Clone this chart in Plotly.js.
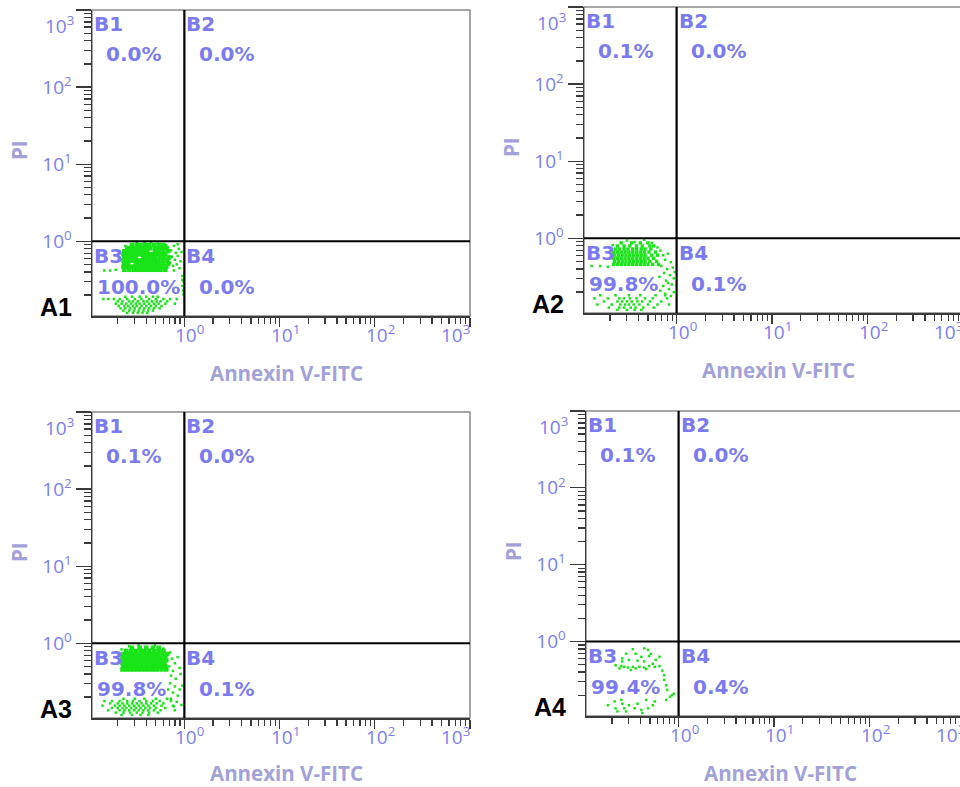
<!DOCTYPE html>
<html>
<head>
<meta charset="utf-8">
<script src="https://cdn.plot.ly/plotly-3.0.1.min.js"></script>
<style>
  html, body { margin: 0; padding: 0; overflow: hidden; background: #fff; }
  #chart { width: 966px; height: 787px; }
</style>
</head>
<body>
<div id="chart"></div>
<script>
// Annexin V-FITC / PI apoptosis dot plots for four samples (A1–A4)

const sampleNames = ['A1', 'A2', 'A3', 'A4'];
const quadrantNames = ['B1', 'B2', 'B3', 'B4'];
// share of events (%) in quadrants B1, B2, B3, B4 for each sample
const quadrantPct = [
  [0.0, 0.0, 100.0, 0.0],
  [0.1, 0.0, 99.8, 0.1],
  [0.1, 0.0, 99.8, 0.1],
  [0.1, 0.0, 99.4, 0.4]
];
// quadrant gates (Annexin V-FITC, PI)
const gateAnnexin = 1;
const gatePI = 1;
// axis ticks
const tickValues = [1, 10, 100, 1000];
const tickLabels = ['10<sup>0</sup>', '10<sup>1</sup>', '10<sup>2</sup>', '10<sup>3</sup>'];
const logRange = [-0.97, 3.0];

// Events, in log10 units.
// Dense rows: [PI, Annexin, Annexin, ...]; loose events: [Annexin, PI]
const a1Core = [
  [-0.05, -0.55, -0.50, -0.46, -0.41, -0.37, -0.32, -0.27, -0.22],
  [-0.09, -0.60, -0.56, -0.52, -0.48, -0.44, -0.40, -0.36, -0.31, -0.27, -0.23, -0.19],
  [-0.13, -0.63, -0.59, -0.55, -0.51, -0.47, -0.43, -0.39, -0.31, -0.27, -0.22, -0.17],
  [-0.17, -0.64, -0.60, -0.56, -0.52, -0.48, -0.44, -0.40, -0.36, -0.32, -0.28, -0.24, -0.20],
  [-0.21, -0.63, -0.59, -0.55, -0.51, -0.43, -0.39, -0.35, -0.31, -0.26, -0.21, -0.16],
  [-0.25, -0.64, -0.60, -0.56, -0.52, -0.48, -0.44, -0.40, -0.36, -0.32, -0.28, -0.23, -0.18],
  [-0.29, -0.63, -0.59, -0.51, -0.47, -0.43, -0.39, -0.35, -0.31, -0.27, -0.22, -0.17],
  [-0.33, -0.64, -0.60, -0.56, -0.52, -0.48, -0.44, -0.40, -0.36, -0.32, -0.28, -0.24, -0.19],
  [-0.37, -0.63, -0.58, -0.53, -0.49, -0.45, -0.41, -0.37, -0.33, -0.29, -0.25, -0.20]
];
const a1Band = [
  [-0.72, -0.62, -0.55, -0.47, -0.40, -0.33, -0.28],
  [-0.75, -0.85, -0.80, -0.74, -0.68, -0.60, -0.52, -0.45, -0.37, -0.30, -0.22, -0.15, -0.08],
  [-0.78, -0.70, -0.65, -0.58, -0.54, -0.49, -0.43, -0.39, -0.34, -0.29, -0.25, -0.18],
  [-0.81, -0.72, -0.66, -0.61, -0.56, -0.51, -0.47, -0.42, -0.37, -0.32, -0.27, -0.20, -0.10],
  [-0.84, -0.69, -0.63, -0.59, -0.54, -0.50, -0.45, -0.40, -0.35, -0.30, -0.24],
  [-0.87, -0.67, -0.62, -0.57, -0.52, -0.47, -0.42, -0.37, -0.32, -0.26],
  [-0.90, -0.64, -0.58, -0.53, -0.48, -0.43, -0.38, -0.33],
  [-0.93, -0.60, -0.54, -0.49, -0.44, -0.39]
];
const a1Loose = [
  [-0.50, -0.01], [-0.42, -0.02], [-0.35, -0.01], [-0.28, -0.03], [-0.62, -0.06], [-0.19, -0.05],
  [-0.17, -0.08], [-0.14, -0.12], [-0.11, -0.06], [-0.09, -0.15], [-0.06, -0.10], [-0.13, -0.20],
  [-0.10, -0.24], [-0.07, -0.19], [-0.04, -0.26], [-0.15, -0.28], [-0.12, -0.32], [-0.08, -0.30],
  [-0.05, -0.35], [-0.03, -0.14], [-0.11, -0.38], [-0.07, -0.04],
  [-0.84, -0.38], [-0.78, -0.38], [-0.72, -0.37],
  [-0.02, -0.45], [-0.01, -0.52], [-0.02, -0.58], [-0.01, -0.64], [-0.02, -0.50], [-0.01, -0.69]
];

const a2Core = [
  [-0.06, -0.58, -0.47, -0.38, -0.30],
  [-0.10, -0.62, -0.55, -0.49, -0.42, -0.36, -0.28, -0.24],
  [-0.14, -0.64, -0.60, -0.55, -0.51, -0.46, -0.42, -0.37, -0.33, -0.27],
  [-0.18, -0.66, -0.62, -0.58, -0.54, -0.50, -0.46, -0.42, -0.38, -0.34, -0.29, -0.22],
  [-0.22, -0.65, -0.61, -0.57, -0.53, -0.49, -0.45, -0.41, -0.37, -0.33, -0.26, -0.20],
  [-0.26, -0.66, -0.62, -0.58, -0.54, -0.50, -0.46, -0.42, -0.38, -0.34, -0.30, -0.24],
  [-0.30, -0.65, -0.61, -0.57, -0.53, -0.49, -0.45, -0.41, -0.37, -0.33, -0.28, -0.21],
  [-0.34, -0.66, -0.62, -0.58, -0.54, -0.50, -0.46, -0.42, -0.38, -0.34, -0.30, -0.25, -0.19]
];
const a2Band = [
  [-0.74, -0.80, -0.64, -0.50, -0.38, -0.22, -0.12],
  [-0.78, -0.86, -0.72, -0.60, -0.55, -0.49, -0.42, -0.33, -0.25, -0.10],
  [-0.82, -0.76, -0.62, -0.57, -0.52, -0.47, -0.41, -0.36, -0.28, -0.16],
  [-0.86, -0.83, -0.68, -0.59, -0.54, -0.50, -0.45, -0.39, -0.30, -0.20, -0.08],
  [-0.90, -0.71, -0.60, -0.55, -0.48, -0.43, -0.35, -0.24],
  [-0.93, -0.62, -0.52, -0.44, -0.37]
];
const a2Loose = [
  [-0.52, -0.03], [-0.44, -0.05], [-0.34, -0.02], [-0.26, -0.06], [-0.20, -0.12], [-0.67, -0.09],
  [-0.17, -0.16], [-0.14, -0.22], [-0.12, -0.28], [-0.09, -0.20], [-0.06, -0.31], [-0.16, -0.36],
  [-0.10, -0.40], [-0.04, -0.38], [-0.13, -0.45], [-0.07, -0.48], [-0.03, -0.52], [-0.11, -0.55],
  [-0.05, -0.60], [-0.14, -0.62], [-0.08, -0.66], [-0.03, -0.70], [-0.12, -0.72], [-0.06, -0.75],
  [-0.18, -0.50], [-0.17, -0.68], [-0.02, -0.44], [-0.09, -0.58],
  [-0.89, -0.36], [-0.80, -0.36], [-0.72, -0.37]
];

const a3Core = [
  [-0.06, -0.55, -0.47, -0.40, -0.33, -0.27],
  [-0.10, -0.61, -0.56, -0.51, -0.46, -0.42, -0.37, -0.32, -0.27, -0.22],
  [-0.14, -0.64, -0.60, -0.56, -0.52, -0.48, -0.44, -0.40, -0.36, -0.32, -0.28, -0.23, -0.18],
  [-0.18, -0.65, -0.61, -0.57, -0.53, -0.49, -0.45, -0.41, -0.37, -0.33, -0.29, -0.25, -0.20],
  [-0.22, -0.64, -0.60, -0.56, -0.52, -0.48, -0.44, -0.40, -0.36, -0.32, -0.28, -0.24, -0.19],
  [-0.26, -0.65, -0.61, -0.57, -0.53, -0.49, -0.45, -0.41, -0.37, -0.33, -0.29, -0.25, -0.21],
  [-0.30, -0.64, -0.60, -0.56, -0.52, -0.48, -0.44, -0.40, -0.36, -0.32, -0.28, -0.24, -0.20],
  [-0.34, -0.65, -0.61, -0.57, -0.53, -0.49, -0.45, -0.41, -0.37, -0.33, -0.29, -0.24, -0.19]
];
const a3Band = [
  [-0.72, -0.64, -0.52, -0.42, -0.30, -0.18],
  [-0.75, -0.84, -0.76, -0.68, -0.60, -0.54, -0.47, -0.40, -0.33, -0.26, -0.14],
  [-0.78, -0.78, -0.70, -0.65, -0.60, -0.55, -0.50, -0.45, -0.40, -0.35, -0.29, -0.22],
  [-0.81, -0.86, -0.73, -0.68, -0.63, -0.58, -0.53, -0.48, -0.43, -0.38, -0.32, -0.24, -0.12],
  [-0.84, -0.76, -0.70, -0.65, -0.61, -0.56, -0.51, -0.46, -0.41, -0.36, -0.30, -0.20],
  [-0.87, -0.80, -0.68, -0.63, -0.58, -0.53, -0.48, -0.43, -0.38, -0.32, -0.25, -0.10],
  [-0.90, -0.72, -0.64, -0.57, -0.50, -0.44, -0.37, -0.28],
  [-0.93, -0.66, -0.55, -0.46, -0.38]
];
const a3Loose = [
  [-0.58, -0.04], [-0.48, -0.02], [-0.40, -0.05], [-0.31, -0.03], [-0.22, -0.07], [-0.66, -0.08],
  [-0.15, -0.12], [-0.13, -0.20], [-0.10, -0.26], [-0.16, -0.30], [-0.07, -0.18], [-0.12, -0.36],
  [-0.05, -0.32], [-0.14, -0.42], [-0.09, -0.46], [-0.04, -0.40], [-0.15, -0.52], [-0.10, -0.56],
  [-0.05, -0.60], [-0.12, -0.64], [-0.07, -0.68], [-0.02, -0.55], [-0.14, -0.72], [-0.08, -0.76],
  [-0.03, -0.80], [-0.17, -0.60], [-0.11, -0.82]
];

const a4Core = [];
const a4Band = [];
const a4Loose = [
  [-0.48, -0.10], [-0.36, -0.09], [-0.32, -0.11], [-0.55, -0.16], [-0.45, -0.16], [-0.39, -0.20],
  [-0.31, -0.19], [-0.59, -0.22], [-0.52, -0.24], [-0.43, -0.25], [-0.36, -0.26], [-0.27, -0.29],
  [-0.66, -0.31], [-0.60, -0.32], [-0.57, -0.33], [-0.53, -0.34], [-0.48, -0.33], [-0.45, -0.35],
  [-0.41, -0.33], [-0.36, -0.34], [-0.31, -0.32], [-0.25, -0.33], [-0.20, -0.32], [-0.62, -0.35],
  [-0.50, -0.37], [-0.34, -0.36], [-0.17, -0.38], [-0.15, -0.44], [-0.59, -0.26], [-0.24, -0.24],
  [-0.29, -0.16], [-0.20, -0.20],
  [-0.15, -0.50], [-0.13, -0.57], [-0.12, -0.63], [-0.07, -0.70], [-0.05, -0.68], [-0.09, -0.72],
  [-0.13, -0.76],
  [-0.74, -0.83], [-0.67, -0.78], [-0.66, -0.87], [-0.60, -0.76], [-0.59, -0.81], [-0.55, -0.91],
  [-0.52, -0.83], [-0.46, -0.87], [-0.43, -0.81], [-0.39, -0.89], [-0.34, -0.76], [-0.32, -0.87],
  [-0.27, -0.83], [-0.25, -0.78], [-0.57, -0.87], [-0.64, -0.91], [-0.38, -0.93]
];

const coreSets = [a1Core, a2Core, a3Core, a4Core];
const bandSets = [a1Band, a2Band, a3Band, a4Band];
const looseSets = [a1Loose, a2Loose, a3Loose, a4Loose];

// ---------- layout geometry (pixels on a 966 x 787 sheet) ----------
const W = 966, H = 787;
// plot frames [left, top, right, bottom]
const frames = [
  [92, 10, 470, 316],
  [584, 7, 963, 313],
  [92, 412, 470, 718],
  [586, 411, 965, 716]
];
const fx = p => p / W;
const fy = p => 1 - p / H;

const dotColor = '#18e418';
const labelBlue = '#7b7bef';
const tickBlue = '#7d7df2';
const titleBlue = '#a2a2d8';

const pow10 = v => Math.pow(10, v);
function rowsToXY(rows) {
  const x = [], y = [];
  rows.forEach(r => { for (let k = 1; k < r.length; k++) { x.push(pow10(r[k])); y.push(pow10(r[0])); } });
  return { x, y };
}
function pairsToXY(pairs) {
  return { x: pairs.map(p => pow10(p[0])), y: pairs.map(p => pow10(p[1])) };
}

// minor tick positions 2..9 x 10^n
const minorVals = [];
for (let e = -1; e <= 2; e++) for (let k = 2; k <= 9; k++) minorVals.push(k * Math.pow(10, e));

const traces = [];
const layout = {
  width: W, height: H,
  margin: { l: 0, r: 0, t: 0, b: 0 },
  paper_bgcolor: '#fff', plot_bgcolor: '#fff',
  showlegend: false, hovermode: false,
  shapes: [], annotations: []
};

const tickFont = { family: 'Open Sans, DejaVu Sans, sans-serif', size: 19, color: tickBlue };
const qFont = { family: 'DejaVu Sans, sans-serif', size: 20, color: labelBlue };
const titleFont = { family: 'Open Sans, sans-serif', size: 20.5, color: titleBlue };

frames.forEach((fr, i) => {
  const [L, T, R, B] = fr;
  const n = i === 0 ? '' : String(i + 1);
  const xa = 'x' + n, ya = 'y' + n;
  const xd = xa + ' domain', yd = ya + ' domain';

  const axisCommon = {
    type: 'log', range: logRange, showgrid: false, zeroline: false,
    showline: true, linecolor: '#3a3a3a', linewidth: 1.5,
    ticks: 'outside', tickcolor: '#3a3a3a', tickwidth: 1.3,
    tickmode: 'array', tickvals: tickValues,
    ticktext: tickLabels.map((t, k) => k === tickLabels.length - 1 ? '' : t),
    tickfont: tickFont, fixedrange: true
  };
  layout['xaxis' + n] = Object.assign({}, axisCommon, {
    domain: [fx(L), fx(R)], anchor: ya, ticklen: 9, showticklabels: false,
    minor: { tickvals: minorVals, ticks: 'outside', ticklen: 6, tickcolor: '#3a3a3a', tickwidth: 1.3, showgrid: false }
  });
  layout['yaxis' + n] = Object.assign({}, axisCommon, {
    domain: [fy(B), fy(T)], anchor: xa, ticklen: 15,
    minor: { tickvals: minorVals, ticks: 'outside', ticklen: 7, tickcolor: '#3a3a3a', tickwidth: 1.3, showgrid: false }
  });

  // outer frame
  layout.shapes.push({ type: 'rect', xref: xd, yref: yd, x0: 0, x1: 1, y0: 0, y1: 1,
    line: { color: '#8a8a8a', width: 1.5 }, layer: 'below' });

  // events
  const core = rowsToXY(coreSets[i]);
  const band = rowsToXY(bandSets[i]);
  const loose = pairsToXY(looseSets[i]);
  traces.push({ type: 'scatter', mode: 'markers', xaxis: xa, yaxis: ya, x: core.x, y: core.y,
    marker: { symbol: 'square', size: i === 1 ? 3.4 : 4.6, color: dotColor, line: { width: 0 } } });
  traces.push({ type: 'scatter', mode: 'markers', xaxis: xa, yaxis: ya,
    x: band.x.concat(loose.x), y: band.y.concat(loose.y),
    marker: { symbol: 'square', size: 2.5, color: dotColor, line: { width: 0 } } });

  // quadrant gates
  const lo = pow10(logRange[0]), hi = pow10(logRange[1]);
  traces.push({ type: 'scatter', mode: 'lines', xaxis: xa, yaxis: ya,
    x: [gateAnnexin, gateAnnexin], y: [lo, hi], line: { color: '#000', width: 2.2 }, cliponaxis: false });
  traces.push({ type: 'scatter', mode: 'lines', xaxis: xa, yaxis: ya,
    x: [lo, hi], y: [gatePI, gatePI], line: { color: '#000', width: 2.2 }, cliponaxis: false });

  const gx = Math.log10(gateAnnexin), gy = Math.log10(gatePI);
  const ann = layout.annotations;
  const pct = quadrantPct[i].map(v => v.toFixed(1) + '%');
  // quadrant names
  ann.push({ xref: xd, x: 0, xanchor: 'left', xshift: 0, yref: yd, y: 1, yanchor: 'middle', yshift: -14,
    text: '<b>' + quadrantNames[0] + '</b>', showarrow: false, font: qFont });
  ann.push({ xref: xa, x: gx, xanchor: 'left', xshift: 0, yref: yd, y: 1, yanchor: 'middle', yshift: -14,
    text: '<b>' + quadrantNames[1] + '</b>', showarrow: false, font: qFont });
  ann.push({ xref: xd, x: 0, xanchor: 'left', xshift: 0, yref: ya, y: gy, yanchor: 'middle', yshift: -15,
    text: '<b>' + quadrantNames[2] + '</b>', showarrow: false, font: qFont });
  ann.push({ xref: xa, x: gx, xanchor: 'left', xshift: 0, yref: ya, y: gy, yanchor: 'middle', yshift: -15,
    text: '<b>' + quadrantNames[3] + '</b>', showarrow: false, font: qFont });
  // percentages
  ann.push({ xref: xd, x: 0, xanchor: 'center', xshift: 41, yref: yd, y: 1, yanchor: 'middle', yshift: -44,
    text: '<b>' + pct[0] + '</b>', showarrow: false, font: qFont });
  ann.push({ xref: xa, x: gx, xanchor: 'center', xshift: 42, yref: yd, y: 1, yanchor: 'middle', yshift: -44,
    text: '<b>' + pct[1] + '</b>', showarrow: false, font: qFont });
  ann.push({ xref: xd, x: 0, xanchor: 'left', xshift: 3, yref: ya, y: gy, yanchor: 'middle', yshift: -46,
    text: '<b>' + pct[2] + '</b>', showarrow: false, font: qFont });
  ann.push({ xref: xa, x: gx, xanchor: 'center', xshift: 42, yref: ya, y: gy, yanchor: 'middle', yshift: -46,
    text: '<b>' + pct[3] + '</b>', showarrow: false, font: qFont });

  // Annexin tick labels: the "10" sits centred on its tick, the last one is kept inside the frame
  tickValues.forEach((v, k) => {
    const last = k === tickValues.length - 1;
    ann.push({ xref: xa, x: Math.log10(v), xanchor: last ? 'right' : 'left', xshift: last ? 2 : -11,
      yref: yd, y: 0, yanchor: 'top', yshift: -2,
      text: tickLabels[k], showarrow: false, font: tickFont });
  });
  // PI top tick label, pulled inside the frame
  ann.push({ xref: xd, x: 0, xanchor: 'right', xshift: -16, yref: yd, y: 1, yanchor: 'middle', yshift: -15,
    text: tickLabels[3], showarrow: false, font: tickFont });

  // sample name and axis titles
  ann.push({ xref: 'paper', yref: 'paper', x: fx(L - 36), y: fy(B - 9), xanchor: 'center', yanchor: 'middle',
    text: '<b>' + sampleNames[i] + '</b>', showarrow: false,
    font: { family: 'Liberation Sans, Arial, sans-serif', size: 25, color: '#000' } });
  ann.push({ xref: 'paper', yref: 'paper', x: fx(L - 73), y: fy(T + 140), xanchor: 'center', yanchor: 'middle',
    text: '<b>PI</b>', textangle: -90, showarrow: false, font: titleFont });
  ann.push({ xref: 'paper', yref: 'paper', x: fx(L + 194), y: fy(Math.min(B + 57, H - 14)), xanchor: 'center', yanchor: 'middle',
    text: '<b>Annexin V-FITC</b>', showarrow: false, font: titleFont });
});

Plotly.newPlot('chart', traces, layout, { staticPlot: true, displayModeBar: false });
</script>
</body>
</html>
